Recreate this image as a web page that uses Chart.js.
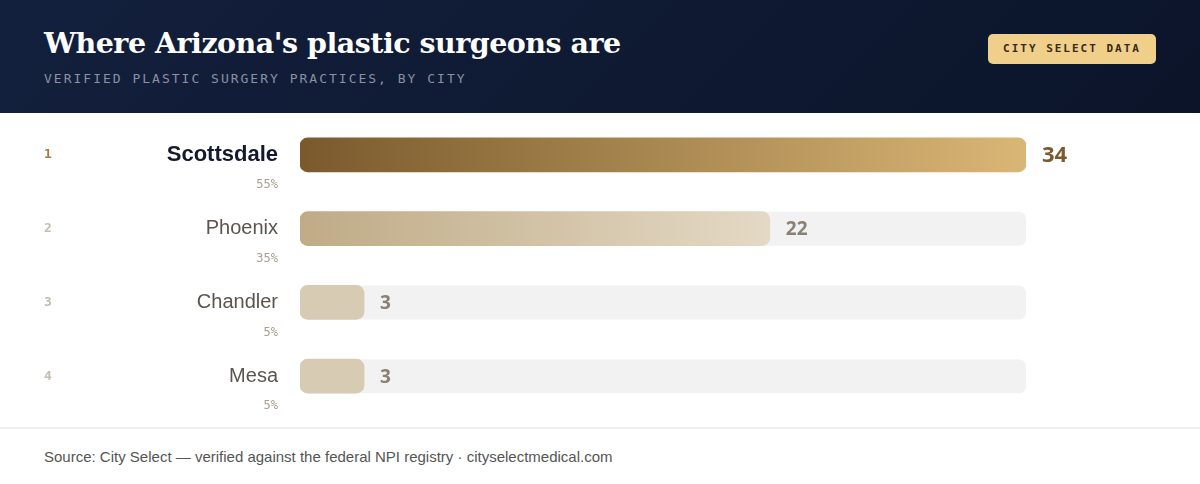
<!DOCTYPE html>
<html>
<head>
<meta charset="utf-8">
<script src="https://cdn.jsdelivr.net/npm/chart.js@4.4.1/dist/chart.umd.min.js"></script>
<style>
    html, body { margin: 0; padding: 0; background: #fff; }
    body { width: 1200px; height: 484px; position: relative; overflow: hidden; }
    .header {
        position: absolute; left: 0; top: 0; width: 1200px; height: 113px;
        background: linear-gradient(135deg, #13203d 0%, #0b1429 100%);
    }
    .title {
        position: absolute; left: 44px; top: 26px;
        font-family: "DejaVu Serif", serif; font-weight: bold; font-size: 28.5px;
        color: #fff; letter-spacing: -0.5px; white-space: nowrap;
    }
    .subtitle {
        position: absolute; left: 44px; top: 71px;
        font-family: "DejaVu Sans Mono", monospace; font-size: 13px;
        color: #8a91a0; letter-spacing: 2px; white-space: nowrap;
    }
    .badge {
        position: absolute; left: 988px; top: 34px; width: 168px; height: 30px;
        background: #efcf8a; border-radius: 5px;
        font-family: "DejaVu Sans Mono", monospace; font-weight: bold; font-size: 11px;
        color: #3a2a12; letter-spacing: 2px; line-height: 30px; text-align: center;
    }
    .chart-wrap { position: absolute; left: 0; top: 113px; width: 1200px; height: 315px; }
    .divider { position: absolute; left: 0; top: 427px; width: 1200px; height: 2px; background: #eeeeee; }
    .source {
        position: absolute; left: 44px; top: 448px;
        font-family: "Liberation Sans", Arial, sans-serif; font-size: 15px; color: #555;
        white-space: nowrap;
    }
</style>
</head>
<body>
<div class="header">
    <div class="title">Where Arizona's plastic surgeons are</div>
    <div class="subtitle">VERIFIED PLASTIC SURGERY PRACTICES, BY CITY</div>
    <div class="badge">CITY SELECT DATA</div>
</div>
<div class="chart-wrap"><canvas id="cities"></canvas></div>
<div class="divider"></div>
<div class="source">Source: City Select — verified against the federal NPI registry · cityselectmedical.com</div>

<script>
const cities = ['Scottsdale', 'Phoenix', 'Chandler', 'Mesa'];
const practices = [34, 22, 3, 3];
const ranks = ['1', '2', '3', '4'];
const scaleMax = 34;

const total = practices.reduce((a, b) => a + b, 0);

// bar fill per row: gradient for the top two, flat tan for the rest
const barFill = (context) => {
    const chart = context.chart;
    const area = chart.chartArea;
    if (!area) return '#d8cbb3';
    const i = context.dataIndex;
    const ctx = chart.ctx;
    const x = chart.scales.x;
    const end = x.getPixelForValue(practices[i]);
    if (i === 0) {
        const g = ctx.createLinearGradient(area.left, 0, end, 0);
        g.addColorStop(0, '#7a5a2d');
        g.addColorStop(1, '#dab676');
        return g;
    }
    if (i === 1) {
        const g = ctx.createLinearGradient(area.left, 0, end, 0);
        g.addColorStop(0, '#bfab86');
        g.addColorStop(1, '#e4d9c5');
        return g;
    }
    return '#d8cbb3';
};

const roundRect = (ctx, x, y, w, h, r) => {
    ctx.beginPath();
    ctx.moveTo(x + r, y);
    ctx.lineTo(x + w - r, y);
    ctx.quadraticCurveTo(x + w, y, x + w, y + r);
    ctx.lineTo(x + w, y + h - r);
    ctx.quadraticCurveTo(x + w, y + h, x + w - r, y + h);
    ctx.lineTo(x + r, y + h);
    ctx.quadraticCurveTo(x, y + h, x, y + h - r);
    ctx.lineTo(x, y + r);
    ctx.quadraticCurveTo(x, y, x + r, y);
    ctx.closePath();
};

const rowDecor = {
    id: 'rowDecor',
    beforeDatasetsDraw(chart) {
        const { ctx, scales: { x, y } } = chart;
        ctx.save();
        ctx.fillStyle = '#f2f2f2';
        cities.forEach((c, i) => {
            const cy = y.getPixelForValue(i);
            const left = x.getPixelForValue(0);
            const right = x.getPixelForValue(scaleMax);
            roundRect(ctx, left, cy - 17, right - left, 34, 8);
            ctx.fill();
        });
        ctx.restore();
    },
    afterDatasetsDraw(chart) {
        const { ctx, scales: { x, y } } = chart;
        ctx.save();
        ctx.textBaseline = 'middle';
        cities.forEach((c, i) => {
            const cy = y.getPixelForValue(i);
            const top = i === 0;

            // rank
            ctx.textAlign = 'left';
            ctx.font = 'bold 13px "DejaVu Sans Mono", monospace';
            ctx.fillStyle = top ? '#a47c40' : '#c4bcae';
            ctx.fillText(ranks[i], 44, cy);

            // city name
            ctx.textAlign = 'right';
            ctx.font = top ? 'bold 22px "Liberation Sans", Arial, sans-serif'
                           : '20px "Liberation Sans", Arial, sans-serif';
            ctx.fillStyle = top ? '#141a2e' : '#5a554d';
            ctx.fillText(c, 278, cy);

            // share
            ctx.font = '12px "DejaVu Sans Mono", monospace';
            ctx.fillStyle = '#a89f90';
            ctx.fillText(Math.round(practices[i] / total * 100) + '%', 278, cy + 30);

            // value
            ctx.textAlign = 'left';
            ctx.font = top ? 'bold 22px "Open Sans", sans-serif' : 'bold 19px "Open Sans", sans-serif';
            ctx.fillStyle = top ? '#7a5a2e' : '#8a8172';
            ctx.fillText(String(practices[i]), x.getPixelForValue(practices[i]) + 16, cy + 1);
        });
        ctx.restore();
    }
};

new Chart(document.getElementById('cities').getContext('2d'), {
    type: 'bar',
    data: {
        labels: cities,
        datasets: [{
            label: 'Practices',
            data: practices,
            backgroundColor: barFill,
            borderRadius: 8,
            borderSkipped: false,
            barThickness: 34
        }]
    },
    options: {
        indexAxis: 'y',
        responsive: true,
        maintainAspectRatio: false,
        animation: false,
        layout: { padding: { left: 300, right: 174, top: 5, bottom: 15 } },
        plugins: {
            legend: { display: false },
            tooltip: { enabled: false }
        },
        scales: {
            x: { min: 0, max: scaleMax, display: false },
            y: { display: false }
        }
    },
    plugins: [rowDecor]
});
</script>
</body>
</html>
